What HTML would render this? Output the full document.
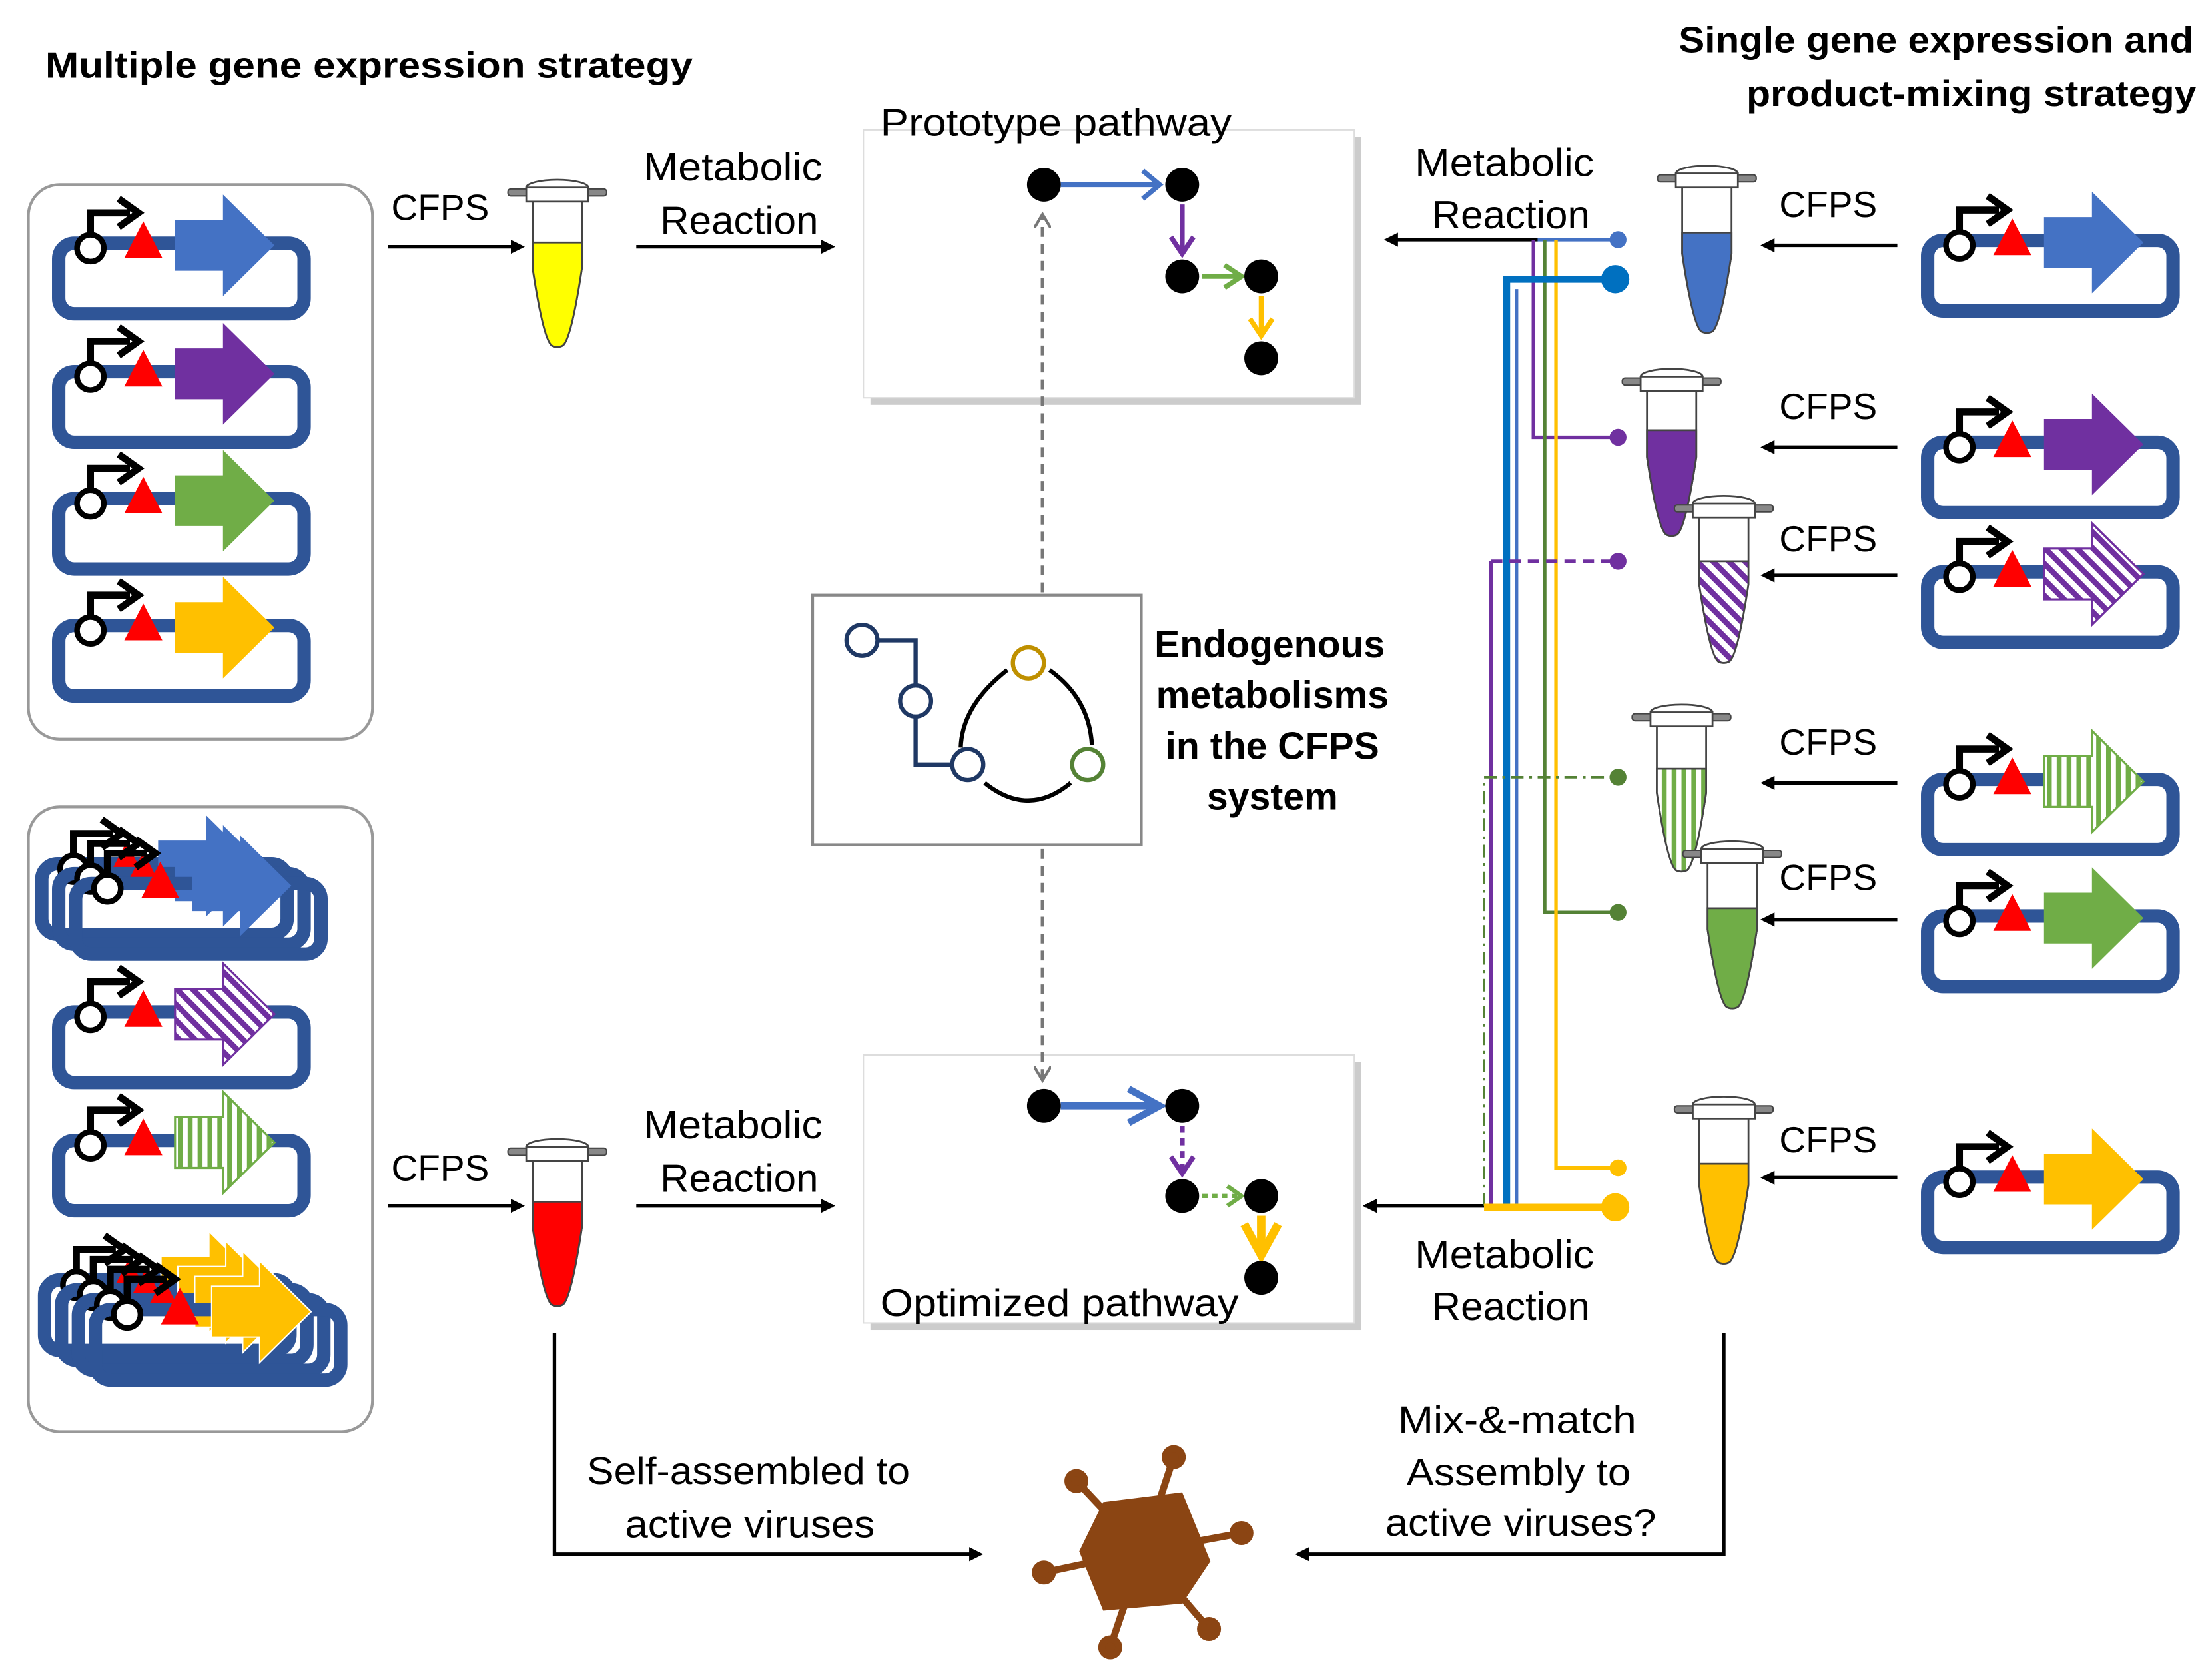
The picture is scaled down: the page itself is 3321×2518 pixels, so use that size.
<!DOCTYPE html>
<html><head><meta charset="utf-8"><style>
html,body{margin:0;padding:0;background:#fff;}
svg{display:block;}
text{font-family:"Liberation Sans","DejaVu Sans",sans-serif;}
</style></head><body>
<svg width="3321" height="2518" viewBox="0 0 1568 1189" xmlns="http://www.w3.org/2000/svg">
<defs>
<pattern id="hp" patternUnits="userSpaceOnUse" width="8" height="8" patternTransform="rotate(-45)">
<rect width="8" height="8" fill="#fff"/><rect width="4" height="8" fill="#7030A0"/></pattern>
<pattern id="hg" patternUnits="userSpaceOnUse" width="7" height="8">
<rect width="7" height="8" fill="#fff"/><rect width="3.5" height="8" fill="#70AD47"/></pattern>
<marker id="ak" markerWidth="10" markerHeight="10" refX="8" refY="5" orient="auto" markerUnits="userSpaceOnUse"><path d="M0,0 L10,5 L0,10 z" fill="#000"/></marker>
<marker id="ag" markerWidth="12" markerHeight="12" refX="10" refY="6" orient="auto" markerUnits="userSpaceOnUse"><path d="M0,0 L10,6 L0,12" fill="none" stroke="#777" stroke-width="2"/></marker>
<g id="prom">
<path d="M64,166 V151 H92" fill="none" stroke="#000" stroke-width="5"/>
<path d="M84,141 L98,151 L84,161" fill="none" stroke="#000" stroke-width="5"/>
<circle cx="64" cy="176" r="9.5" fill="#fff" stroke="#000" stroke-width="4"/>
<path d="M88,183 L101.5,157 L115,183 z" fill="#f00"/>
</g>
<rect id="loop" x="41.5" y="172.5" width="174" height="50" rx="11" fill="none" stroke="#2F5597" stroke-width="9.5"/>
<path id="gene" d="M124,156 H158 V138 L194.5,174 L158,210 V192 H124 z"/>
<g id="cap">
<rect x="-35" y="6" width="70" height="5" rx="2" fill="#888" stroke="#444" stroke-width="1"/>
<ellipse cx="0" cy="5" rx="22" ry="5.5" fill="#fff" stroke="#444" stroke-width="1.3"/>
<rect x="-22" y="5" width="44" height="10" fill="#fff" stroke="#444" stroke-width="1.3"/>
</g>
</defs>

<text x="32" y="55" font-size="26" font-weight="bold" textLength="459" lengthAdjust="spacingAndGlyphs">Multiple gene expression strategy</text>
<text x="1190" y="37" font-size="26" font-weight="bold" textLength="365" lengthAdjust="spacingAndGlyphs">Single gene expression and</text>
<text x="1238" y="75" font-size="26" font-weight="bold" textLength="319" lengthAdjust="spacingAndGlyphs">product-mixing strategy</text>

<rect x="20" y="131" width="244" height="393" rx="22" fill="none" stroke="#999" stroke-width="2"/>
<rect x="20" y="572" width="244" height="443" rx="22" fill="none" stroke="#999" stroke-width="2"/>

<g><use href="#loop"/><use href="#gene" fill="#4472C4"/><use href="#prom"/></g>
<g transform="translate(0,91)"><use href="#loop"/><use href="#gene" fill="#7030A0"/><use href="#prom"/></g>
<g transform="translate(0,181)"><use href="#loop"/><use href="#gene" fill="#70AD47"/><use href="#prom"/></g>
<g transform="translate(0,271)"><use href="#loop"/><use href="#gene" fill="#FFC000"/><use href="#prom"/></g>

<g transform="translate(-12,440)"><use href="#loop"/><use href="#gene" fill="#4472C4"/><use href="#prom"/></g>
<g transform="translate(0,447)"><use href="#loop"/><use href="#gene" fill="#4472C4"/><use href="#prom"/></g>
<g transform="translate(12,454)"><use href="#loop"/><use href="#gene" fill="#4472C4"/><use href="#prom"/></g>
<g transform="translate(0,545)"><use href="#loop"/><use href="#gene" fill="url(#hp)" stroke="#7030A0" stroke-width="1.5"/><use href="#prom"/></g>
<g transform="translate(0,636)"><use href="#loop"/><use href="#gene" fill="url(#hg)" stroke="#70AD47" stroke-width="1.5"/><use href="#prom"/></g>
<g transform="translate(-10,735)"><use href="#loop"/><use href="#gene" fill="#FFC000" stroke="#fff"/><use href="#prom"/></g>
<g transform="translate(2,742)"><use href="#loop"/><use href="#gene" fill="#FFC000" stroke="#fff"/><use href="#prom"/></g>
<g transform="translate(14,749)"><use href="#loop"/><use href="#gene" fill="#FFC000" stroke="#fff"/><use href="#prom"/></g>
<g transform="translate(26,756)"><use href="#loop"/><use href="#gene" fill="#FFC000" stroke="#fff"/><use href="#prom"/></g>

<g transform="translate(1325,-2)"><use href="#loop"/><use href="#gene" fill="#4472C4"/><use href="#prom"/></g>
<g transform="translate(1325,141)"><use href="#loop"/><use href="#gene" fill="#7030A0"/><use href="#prom"/></g>
<g transform="translate(1325,233)"><use href="#loop"/><use href="#gene" fill="url(#hp)" stroke="#7030A0" stroke-width="1.5"/><use href="#prom"/></g>
<g transform="translate(1325,380)"><use href="#loop"/><use href="#gene" fill="url(#hg)" stroke="#70AD47" stroke-width="1.5"/><use href="#prom"/></g>
<g transform="translate(1325,477)"><use href="#loop"/><use href="#gene" fill="#70AD47"/><use href="#prom"/></g>
<g transform="translate(1325,662)"><use href="#loop"/><use href="#gene" fill="#FFC000"/><use href="#prom"/></g>

<g stroke="#444" stroke-width="1.3">
<g transform="translate(395,128)">
<path d="M-17.5,14 V62 Q-10,112 -4,117 Q0,119 4,117 Q10,112 17.5,62 V14 z" fill="#fff"/>
<path d="M-17.5,44 V62 Q-10,112 -4,117 Q0,119 4,117 Q10,112 17.5,62 V44 z" fill="#FFFF00"/>
<use href="#cap"/></g>
<g transform="translate(395,808)">
<path d="M-17.5,14 V62 Q-10,112 -4,117 Q0,119 4,117 Q10,112 17.5,62 V14 z" fill="#fff"/>
<path d="M-17.5,44 V62 Q-10,112 -4,117 Q0,119 4,117 Q10,112 17.5,62 V44 z" fill="#FF0000"/>
<use href="#cap"/></g>
<g transform="translate(1210,118)">
<path d="M-17.5,14 V62 Q-10,112 -4,117 Q0,119 4,117 Q10,112 17.5,62 V14 z" fill="#fff"/>
<path d="M-17.5,47 V62 Q-10,112 -4,117 Q0,119 4,117 Q10,112 17.5,62 V47 z" fill="#4472C4"/>
<use href="#cap"/></g>
<g transform="translate(1185,262)">
<path d="M-17.5,14 V62 Q-10,112 -4,117 Q0,119 4,117 Q10,112 17.5,62 V14 z" fill="#fff"/>
<path d="M-17.5,43 V62 Q-10,112 -4,117 Q0,119 4,117 Q10,112 17.5,62 V43 z" fill="#7030A0"/>
<use href="#cap"/></g>
<g transform="translate(1222,352)">
<path d="M-17.5,14 V62 Q-10,112 -4,117 Q0,119 4,117 Q10,112 17.5,62 V14 z" fill="#fff"/>
<path d="M-17.5,46 V62 Q-10,112 -4,117 Q0,119 4,117 Q10,112 17.5,62 V46 z" fill="url(#hp)"/>
<use href="#cap"/></g>
<g transform="translate(1192,500)">
<path d="M-17.5,14 V62 Q-10,112 -4,117 Q0,119 4,117 Q10,112 17.5,62 V14 z" fill="#fff"/>
<path d="M-17.5,45 V62 Q-10,112 -4,117 Q0,119 4,117 Q10,112 17.5,62 V45 z" fill="url(#hg)"/>
<use href="#cap"/></g>
<g transform="translate(1228,597)">
<path d="M-17.5,14 V62 Q-10,112 -4,117 Q0,119 4,117 Q10,112 17.5,62 V14 z" fill="#fff"/>
<path d="M-17.5,47 V62 Q-10,112 -4,117 Q0,119 4,117 Q10,112 17.5,62 V47 z" fill="#70AD47"/>
<use href="#cap"/></g>
<g transform="translate(1222,778)">
<path d="M-17.5,14 V62 Q-10,112 -4,117 Q0,119 4,117 Q10,112 17.5,62 V14 z" fill="#fff"/>
<path d="M-17.5,47 V62 Q-10,112 -4,117 Q0,119 4,117 Q10,112 17.5,62 V47 z" fill="#FFC000"/>
<use href="#cap"/></g>
</g>

<g font-size="26">
<text x="312" y="156" text-anchor="middle">CFPS</text>
<text x="312" y="837" text-anchor="middle">CFPS</text>
<text x="1296" y="154" text-anchor="middle">CFPS</text>
<text x="1296" y="297" text-anchor="middle">CFPS</text>
<text x="1296" y="391" text-anchor="middle">CFPS</text>
<text x="1296" y="535" text-anchor="middle">CFPS</text>
<text x="1296" y="631" text-anchor="middle">CFPS</text>
<text x="1296" y="817" text-anchor="middle">CFPS</text>
</g>
<g font-size="28">
<text x="456" y="128" textLength="127" lengthAdjust="spacingAndGlyphs">Metabolic</text><text x="468" y="166" textLength="112" lengthAdjust="spacingAndGlyphs">Reaction</text>
<text x="456" y="807" textLength="127" lengthAdjust="spacingAndGlyphs">Metabolic</text><text x="468" y="845" textLength="112" lengthAdjust="spacingAndGlyphs">Reaction</text>
<text x="1003" y="125" textLength="127" lengthAdjust="spacingAndGlyphs">Metabolic</text><text x="1015" y="162" textLength="112" lengthAdjust="spacingAndGlyphs">Reaction</text>
<text x="1003" y="899" textLength="127" lengthAdjust="spacingAndGlyphs">Metabolic</text><text x="1015" y="936" textLength="112" lengthAdjust="spacingAndGlyphs">Reaction</text>
</g>
<g stroke="#000" stroke-width="2.5" marker-end="url(#ak)">
<line x1="275" y1="175" x2="370" y2="175"/>
<line x1="451" y1="175" x2="590" y2="175"/>
<line x1="275" y1="855" x2="370" y2="855"/>
<line x1="451" y1="855" x2="590" y2="855"/>
<line x1="1345" y1="174" x2="1250" y2="174"/>
<line x1="1345" y1="317" x2="1250" y2="317"/>
<line x1="1345" y1="408" x2="1250" y2="408"/>
<line x1="1345" y1="555" x2="1250" y2="555"/>
<line x1="1345" y1="652" x2="1250" y2="652"/>
<line x1="1345" y1="835" x2="1250" y2="835"/>
<line x1="1090" y1="170" x2="983" y2="170"/>
<line x1="1052" y1="855" x2="968" y2="855"/>
</g>

<rect x="617" y="97" width="348" height="190" fill="#ccc"/>
<rect x="612" y="92" width="348" height="190" fill="#fff" stroke="#ddd"/>
<rect x="617" y="753" width="348" height="190" fill="#ccc"/>
<rect x="612" y="748" width="348" height="190" fill="#fff" stroke="#ddd"/>
<text x="624" y="96" font-size="27" textLength="249" lengthAdjust="spacingAndGlyphs">Prototype pathway</text>
<text x="624" y="933" font-size="27" textLength="254" lengthAdjust="spacingAndGlyphs">Optimized pathway</text>

<line x1="739" y1="420" x2="739" y2="152" stroke="#777" stroke-width="2.5" stroke-dasharray="7,5" marker-end="url(#ag)"/>
<line x1="739" y1="602" x2="739" y2="766" stroke="#777" stroke-width="2.5" stroke-dasharray="7,5" marker-end="url(#ag)"/>

<g stroke-width="3.5" fill="none">
<path d="M752,131 H820 M810,121 L822,131 L810,141" stroke="#4472C4"/>
<path d="M838,145 V178 M830,168 L838,180 L846,168" stroke="#7030A0"/>
<path d="M852,196 H878 M868,188 L880,196 L868,204" stroke="#70AD47"/>
<path d="M894,210 V236 M886,226 L894,238 L902,226" stroke="#FFC000"/>
</g>
<g fill="#000"><circle cx="740" cy="131" r="12"/><circle cx="838" cy="131" r="12"/><circle cx="838" cy="196" r="12"/><circle cx="894" cy="196" r="12"/><circle cx="894" cy="254" r="12"/></g>

<g fill="none">
<path d="M752,784 H818 M800,772 L822,784 L800,796" stroke="#4472C4" stroke-width="5"/>
<path d="M838,798 V830" stroke="#7030A0" stroke-width="3.5" stroke-dasharray="5,4"/>
<path d="M830,820 L838,832 L846,820" stroke="#7030A0" stroke-width="3.5"/>
<path d="M852,848 H878" stroke="#70AD47" stroke-width="3" stroke-dasharray="4,3"/>
<path d="M870,841 L880,848 L870,855" stroke="#70AD47" stroke-width="3"/>
<path d="M894,862 V886 M882,868 L894,890 L906,868" stroke="#FFC000" stroke-width="6"/>
</g>
<g fill="#000"><circle cx="740" cy="784" r="12"/><circle cx="838" cy="784" r="12"/><circle cx="838" cy="848" r="12"/><circle cx="894" cy="848" r="12"/><circle cx="894" cy="906" r="12"/></g>

<rect x="576" y="422" width="233" height="177" fill="#fff" stroke="#888" stroke-width="2"/>
<g fill="none" stroke-width="3">
<path d="M622,454 H649 V486 M649,508 V542 H675" stroke="#1F3864"/>
<circle cx="611" cy="454" r="11" stroke="#1F3864"/>
<circle cx="649" cy="497" r="11" stroke="#1F3864"/>
<circle cx="686" cy="542" r="11" stroke="#1F3864"/>
<circle cx="729" cy="470" r="11" stroke="#BF9000"/>
<circle cx="771" cy="542" r="11" stroke="#548235"/>
<path d="M714,475 Q682,500 681,530 M744,475 Q772,495 774,528 M698,555 Q729,580 759,555" stroke="#000"/>
</g>
<g font-size="27" font-weight="bold" text-anchor="middle">
<text x="900" y="466">Endogenous</text>
<text x="902" y="502">metabolisms</text>
<text x="902" y="538">in the CFPS</text>
<text x="902" y="574">system</text>
</g>

<g fill="none">
<line x1="1090" y1="170" x2="1147" y2="170" stroke="#4472C4" stroke-width="2.5"/>
<circle cx="1147" cy="170" r="6" fill="#4472C4"/>
<path d="M1087,170 V310 H1147" stroke="#7030A0" stroke-width="2.5"/>
<circle cx="1147" cy="310" r="6" fill="#7030A0"/>
<path d="M1095,170 V647 H1147" stroke="#548235" stroke-width="2.5"/>
<circle cx="1147" cy="647" r="6" fill="#548235"/>
<path d="M1103,170 V828 H1147" stroke="#FFC000" stroke-width="2.5"/>
<circle cx="1147" cy="828" r="6" fill="#FFC000"/>
<path d="M1068,855 V198 H1145" stroke="#0070C0" stroke-width="5"/>
<circle cx="1145" cy="198" r="10" fill="#0070C0"/>
<line x1="1075" y1="855" x2="1075" y2="205" stroke="#4472C4" stroke-width="2.5"/>
<path d="M1057,855 V398" stroke="#7030A0" stroke-width="2.5"/>
<path d="M1057,398 H1147" stroke="#7030A0" stroke-width="2.5" stroke-dasharray="8,5"/>
<circle cx="1147" cy="398" r="6" fill="#7030A0"/>
<path d="M1052,855 V551 H1147" stroke="#548235" stroke-width="1.8" stroke-dasharray="9,4,2,4"/>
<circle cx="1147" cy="551" r="6" fill="#548235"/>
<line x1="1052" y1="856" x2="1145" y2="856" stroke="#FFC000" stroke-width="5"/>
<circle cx="1145" cy="856" r="10" fill="#FFC000"/>
</g>

<path d="M393,945 V1102 H695" fill="none" stroke="#000" stroke-width="2.5" marker-end="url(#ak)"/>
<path d="M1222,945 V1102 H920" fill="none" stroke="#000" stroke-width="2.5" marker-end="url(#ak)"/>
<g font-size="27">
<text x="416" y="1052" textLength="229" lengthAdjust="spacingAndGlyphs">Self-assembled to</text>
<text x="443" y="1090" textLength="177" lengthAdjust="spacingAndGlyphs">active viruses</text>
<text x="991" y="1016" textLength="169" lengthAdjust="spacingAndGlyphs">Mix-&amp;-match</text>
<text x="997" y="1053" textLength="159" lengthAdjust="spacingAndGlyphs">Assembly to</text>
<text x="982" y="1089" textLength="192" lengthAdjust="spacingAndGlyphs">active viruses?</text>
</g>

<g stroke="#8B4513" stroke-width="5" fill="#8B4513">
<line x1="810" y1="1100" x2="832" y2="1033"/>
<line x1="810" y1="1100" x2="763" y2="1050"/>
<line x1="810" y1="1100" x2="880" y2="1087"/>
<line x1="810" y1="1100" x2="740" y2="1115"/>
<line x1="810" y1="1100" x2="857" y2="1155"/>
<line x1="810" y1="1100" x2="787" y2="1168"/>
<circle cx="832" cy="1033" r="6"/><circle cx="763" cy="1050" r="6"/><circle cx="880" cy="1087" r="6"/>
<circle cx="740" cy="1115" r="6"/><circle cx="857" cy="1155" r="6"/><circle cx="787" cy="1168" r="6"/>
<polygon points="782,1065 838,1058 858,1107 838,1137 782,1142 765,1100" stroke="none"/>
</g>
</svg>
</body></html>
